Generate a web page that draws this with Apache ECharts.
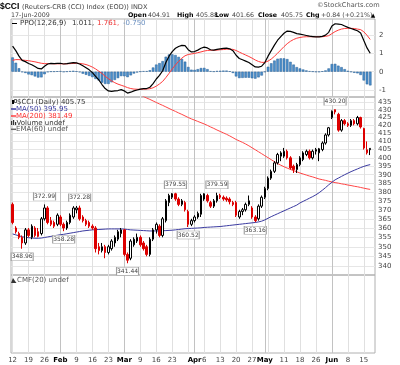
<!DOCTYPE html>
<html><head><meta charset="utf-8">
<script src="https://cdn.jsdelivr.net/npm/echarts@6/dist/echarts.min.js"></script>
<style>html,body{margin:0;padding:0;background:#fff}#c{width:400px;height:365px}</style>
</head><body><div id="c"></div>
<script>
// ---------- data ----------
const dates = ['01-12','01-13','01-14','01-15','01-16','01-19','01-20','01-21','01-22','01-23','01-26','01-27','01-28','01-29','01-30',
'02-02','02-03','02-04','02-05','02-06','02-09','02-10','02-11','02-12','02-13','02-16','02-17','02-18','02-19','02-20','02-23','02-24','02-25','02-26','02-27',
'03-02','03-03','03-04','03-05','03-06','03-09','03-10','03-11','03-12','03-13','03-16','03-17','03-18','03-19','03-20','03-23','03-24','03-25','03-26','03-27','03-30','03-31',
'04-01','04-02','04-03','04-06','04-07','04-08','04-09','04-10','04-13','04-14','04-15','04-16','04-17','04-20','04-21','04-22','04-23','04-24','04-27','04-28','04-29','04-30',
'05-01','05-04','05-05','05-06','05-07','05-08','05-11','05-12','05-13','05-14','05-15','05-18','05-19','05-20','05-21','05-22','05-25','05-26','05-27','05-28','05-29',
'06-01','06-02','06-03','06-04','06-05','06-08','06-09','06-10','06-11','06-12','06-15','06-16','06-17'];

const open = [373,360,357,355,352,359,355,360,358,357, 365,371,364,363,362,366,362,360,363,366,
370,371,366,364,363,361,360,350,348,350, 347,349,352,354,357,359,346,344,351,353,
355,352,350,346,354,359,361,356,364,374, 377,379,376,373,374,369,362,364,366,367.5,
376,378,374,372,375,378,377,376.5,376,374, 374,366,369,370,373,371,366,365,372,377,
382,388,392,397,401,401,404,400,395,393, 396,399,402,404,400,404,403,405,409,414,
425,430,427,417,423,421,420,423,421,425, 418,403,404.91];
const high = [374,361,358,356,360,360,362,361,360,366, 372.99,372,366,364,368,367,363,364,368,372,
372.1,372.28,367,365,364,362,361,352,352,351, 351,354,356,359,360,359.5,347,354,355,357,
356,353,351,355,360,363,362,366,376,379, 379.4,379.55,377,376,375,370,365,367,369,379,
379.3,379,375,376,379.59,379,378,377.5,377,375, 375,370,371,374,378,372,367,373,378,383,
389,393,398,403,404,406,405,401,396,397, 401,404,405,405,405,406,406,410,415,419,
429.5,430.2,428,424,424,422,424,424,426,425.5, 418.5,410,405.88];
const low = [362,357,354,348.96,351,355,354,355,355,356, 364,362,361,360,361,361,358.28,359,362,365,
368,364,363,361,360,359,347,346,347,344, 346,348,350,353,355,345,341.44,343,350,352,
350,348,345,345,353,357,355,355,363,372, 376,375,372,372,369,360.52,361,363,365,366,
375,374,371,371,374,376,375,374.5,373,372, 366,365,367,369,372,365,363.16,364,371,376,
381,387,391,396,398,400,399,393,391,391, 395,398,401,399,399,402,398,404,408,413,
424,427,416,416,420,419,419,420,420,418, 405,402,401.66];
const close = [363,358,355,352,359,356,361,356,355.5,365, 371,363,362,361,367,362,360,363,367,371,
371,365,364,362,361,360,349,348,350,347, 350,353,355,358,359,346,343,353,354,355,
351,349,346,354,359,362,356,365,375,378, 379,376,373,375,370,362,364,366,368,378,
379,375,372,375,378,377,376,375.5,374.5,373, 367,369,370,373,375,366,364,372,377,382,
388,392,397,402,403,404,400,394,393,396, 400,403,404,400,404,405,405.5,409,414,418.5,
429,428.5,417,423,421,420,423,421,425,419, 406,404.91,405.75];

const ma50 = [356.8,356.3,355.8,355.3,355.0,354.8,354.6,354.5,354.5,354.6, 354.9,355.2,355.5,355.8,356.1,356.4,356.6,356.9,357.2,357.5,
357.8,358.1,358.4,358.6,358.8,359.0,359.1,359.2,359.3,359.4, 359.5,359.5,359.5,359.5,359.5,359.4,359.2,359.0,358.9,358.8,
358.7,358.6,358.5,358.4,358.4,358.4,358.4,358.5,358.6,358.7, 358.8,359.0,359.2,359.4,359.6,359.7,359.8,359.9,360.0,360.1,
360.3,360.4,360.5,360.6,360.7,360.8,361.0,361.2,361.4,361.6, 361.8,362.0,362.2,362.4,362.6,362.8,363.0,363.3,363.7,364.4,
365.3,366.2,367.0,367.8,368.6,369.4,370.2,371.0,371.8,372.6, 373.8,374.7,375.6,376.5,377.4,378.4,379.6,381.0,382.5,384.1,
385.6,387.0,388.0,389.0,390.0,390.9,391.8,392.6,393.4,394.2, 394.9,395.5,395.95];
const ma200 = [null,null,null,null,null,null,null,null,null,null, null,null,null,null,null,null,null,null,null,null,
null,null,null,null,null,null,null,null,null,null, null,null,null,null,null,null,null,null,null,null,
439.6,438.6,437.6,436.7,435.7,434.7,433.7,432.8,431.8,430.8, 429.8,428.9,427.9,427.0,426.0,425.0,424.1,423.3,422.5,421.7,
420.9,420.0,419.0,418.1,417.1,416.2,415.3,414.4,413.4,412.3, 411.2,410.3,409.4,408.4,407.3,406.1,404.9,403.7,402.5,401.3,
400.1,398.9,397.7,396.6,395.6,394.7,393.9,393.1,392.4,391.7, 391.0,390.4,389.8,389.2,388.7,388.1,387.5,387.1,386.7,386.2,
385.8,385.4,385.1,384.7,384.4,384.0,383.7,383.3,383.0,382.6, 382.2,381.8,381.49];

const ppo = [1.40,1.15,0.85,0.62,0.55,0.45,0.38,0.28,0.18,0.15, 0.30,0.42,0.45,0.44,0.45,0.46,0.42,0.44,0.47,0.50,
0.48,0.42,0.32,0.22,0.10,-0.05,-0.25,-0.45,-0.70,-0.92, -1.05,-1.08,-1.05,-1.03,-0.98,-1.05,-1.17,-1.12,-1.05,-1.00,
-0.95,-0.93,-0.92,-0.85,-0.65,-0.40,-0.20,0.05,0.50,0.85, 1.10,1.28,1.38,1.44,1.42,1.20,1.08,1.10,1.18,1.28,
1.34,1.30,1.20,1.18,1.22,1.25,1.27,1.29,1.25,1.15, 0.90,0.72,0.65,0.58,0.50,0.38,0.26,0.25,0.30,0.50,
0.85,1.15,1.45,1.72,1.92,2.10,2.22,2.20,2.15,2.08, 2.05,2.02,1.98,1.94,1.92,1.90,1.90,1.93,2.00,2.15,
2.50,2.62,2.60,2.58,2.50,2.42,2.36,2.30,2.24,2.12, 1.70,1.30,1.011];
const ppoSignal = [0.62,0.66,0.66,0.64,0.62,0.60,0.57,0.54,0.50,0.46, 0.44,0.44,0.44,0.43,0.43,0.43,0.43,0.43,0.44,0.45,
0.46,0.45,0.43,0.39,0.33,0.25,0.15,0.03,-0.10,-0.25, -0.38,-0.50,-0.60,-0.68,-0.74,-0.80,-0.87,-0.92,-0.95,-0.96,
-0.96,-0.96,-0.95,-0.93,-0.88,-0.79,-0.67,-0.53,-0.32,-0.09, 0.15,0.37,0.57,0.74,0.87,0.94,0.97,1.00,1.04,1.08,
1.13,1.16,1.17,1.17,1.18,1.20,1.21,1.23,1.23,1.22, 1.16,1.07,0.99,0.91,0.83,0.74,0.64,0.56,0.51,0.51,
0.58,0.69,0.84,1.01,1.19,1.37,1.53,1.66,1.76,1.83, 1.87,1.90,1.91,1.91,1.91,1.91,1.91,1.91,1.93,1.97,
2.08,2.19,2.27,2.33,2.36,2.37,2.37,2.36,2.33,2.30, 2.18,1.99,1.761];
const ppoHist = [0.78,0.49,0.19,-0.02,-0.07,-0.15,-0.19,-0.26,-0.32,-0.31, -0.14,-0.02,0.01,0.01,0.02,0.03,-0.01,0.01,0.03,0.05,
0.02,-0.03,-0.11,-0.17,-0.23,-0.30,-0.40,-0.48,-0.60,-0.67, -0.67,-0.58,-0.45,-0.35,-0.24,-0.25,-0.30,-0.20,-0.10,-0.04,
0.01,0.03,0.03,0.08,0.23,0.39,0.47,0.58,0.82,0.94, 0.95,0.91,0.81,0.70,0.55,0.26,0.11,0.10,0.14,0.20,
0.21,0.14,0.03,0.01,0.04,0.05,0.06,0.06,0.02,-0.07, -0.26,-0.35,-0.34,-0.33,-0.33,-0.36,-0.38,-0.31,-0.21,-0.01,
0.27,0.46,0.61,0.71,0.73,0.73,0.69,0.54,0.39,0.25, 0.18,0.12,0.07,0.03,0.01,-0.01,-0.01,0.02,0.07,0.18,
0.42,0.43,0.33,0.25,0.14,0.05,-0.01,-0.06,-0.09,-0.18, -0.48,-0.69,-0.750];

const tickDates = ['01-12','01-19','01-26','02-02','02-09','02-16','02-23','03-02','03-09','03-16','03-23','04-01','04-06','04-13','04-20','04-27','05-01','05-11','05-18','05-25','06-01','06-08','06-15'];
const tickTexts = ['12','19','26','Feb','9','16','23','Mar','9','16','23','Apr','6','13','20','27','May','11','18','26','Jun','8','15'];
const monthDates = ['02-02','03-02','04-01','05-01','06-01'];
const gridDates = ['01-12','01-19','01-26','02-02','02-09','02-16','02-23','03-02','03-09','03-16','03-23','03-30','04-01','04-06','04-13','04-20','04-27','05-01','05-04','05-11','05-18','05-25','06-01','06-08','06-15'];
const priceTicks = [340,345,350,355,360,365,370,375,380,385,390,395,400,405,410,415,420,425,430,435];
const ppoTicks = [-1,0,1,2];

const annotDates  = ['01-26','02-10','03-24','04-10','06-02','01-15','02-03','03-03','03-30','04-28'];
const annotValues = [372.99,372.28,379.55,379.59,430.20,348.96,358.28,341.44,360.52,363.16];
const annotAbove  = [true,true,true,true,true,false,false,false,false,false];

// ---------- chart ----------
const FONT = 'DejaVu Sans';
const cats = dates.concat(['']);
const tickMap = {}; tickDates.forEach((d,i)=>tickMap[d]=tickTexts[i]);

const candles = dates.map((d,i)=>{
  const o=open[i], c=close[i], pc = i>0 ? close[i-1] : o;
  const col = c >= pc ? '#000000' : '#dd0000';
  const fill = c >= o ? '#ffffff' : col;
  return {value:[o,c,low[i],high[i]], itemStyle:{color:fill,color0:fill,borderColor:col,borderColor0:col}};
});

const gridLines = gridDates.map(d=>({xAxis:d, lineStyle:{color: monthDates.includes(d) ? '#c2c2c2' : '#e0e0e0', width:1, type:'solid'}}));
const dummy = cats.map(()=>null);
const mkGrid = (k)=>({type:'line', xAxisIndex:k, yAxisIndex:k, data:dummy, showSymbol:false, silent:true, z:1,
  markLine:{z:1, silent:true, symbol:['none','none'], label:{show:false}, animation:false, data:gridLines}});

const L = 11, W = 364;
const grids = [
  {left:L, width:W, top:19, height:78, show:true, borderColor:'#b0b0b0', borderWidth:1},
  {left:L, width:W, top:97, height:178, show:true, borderColor:'#b0b0b0', borderWidth:1},
  {left:L, width:W, top:275, height:78, show:true, borderColor:'#b0b0b0', borderWidth:1}
];
const xAxes = [0,1,2].map(k=>({type:'category', gridIndex:k, data:cats, boundaryGap:true,
  axisLine:{show:false}, axisTick:{show:false}, splitLine:{show:false},
  axisLabel: k===2 ? {show:true, interval:(i,v)=>tickMap[v]!==undefined, margin:4, fontSize:7, color:'#444', fontFamily:FONT,
     formatter:(v)=> monthDates.includes(v) ? '{m|'+tickMap[v]+'}' : (tickMap[v]||''),
     rich:{m:{fontWeight:'bold', color:'#000', fontSize:7, fontFamily:FONT}}} : {show:false}}));

const yAxes = [
  {type:'value', gridIndex:0, position:'right', min:-1.383, max:2.880,
   axisLine:{show:false}, axisTick:{show:false, customValues:ppoTicks},
   axisLabel:{customValues:ppoTicks, fontSize:7, color:'#444', margin:4, fontFamily:FONT},
   splitLine:{show:true, lineStyle:{color:'#e6e6e6'}}},
  {type:'log', logBase:10, gridIndex:1, position:'right', min:335.46, max:438.28,
   axisLine:{show:false}, axisTick:{show:false, customValues:priceTicks},
   axisLabel:{customValues:priceTicks, fontSize:7, color:'#444', margin:3, fontFamily:FONT, formatter:(v)=>String(Math.round(v))},
   splitLine:{show:true, lineStyle:{color:'#e6e6e6'}}},
  {type:'value', gridIndex:2, min:0, max:1, show:false}
];

const T = (x,y,text,opt)=>({type:'text', x, y, silent:true, z:100,
  style:Object.assign({text, fontFamily:FONT, fontSize:7, fill:'#333', verticalAlign:'middle', align:'left'}, opt||{})});
const H = 6.3;
const graphic = [
  T(0,7,'$CCI',{fontSize:8.5, fontWeight:'bold', fill:'#000', fontFamily:'Liberation Sans'}),
  T(22,7,'(Reuters-CRB (CCI) Index (EOD)) INDX',{fill:'#444', fontSize:6.6}),
  T(11,15.5,'17-Jun-2009',{fill:'#444', fontSize:6.3}),
  T(128,15.5,'Open',{fontWeight:'bold', fill:'#000', fontSize:H}), T(148,15.5,'404.91',{fill:'#444', fontSize:H}),
  T(177,15.5,'High',{fontWeight:'bold', fill:'#000', fontSize:H}), T(196,15.5,'405.88',{fill:'#444', fontSize:H}),
  T(215,15.5,'Low',{fontWeight:'bold', fill:'#000', fontSize:H}), T(232,15.5,'401.66',{fill:'#444', fontSize:H}),
  T(258,15.5,'Close',{fontWeight:'bold', fill:'#000', fontSize:H}), T(281,15.5,'405.75',{fill:'#444', fontSize:H}),
  T(306,15.5,'Chg',{fontWeight:'bold', fill:'#000', fontSize:H}), T(321,15.5,'+0.84 (+0.21%)',{fill:'#444', fontSize:H}),
  T(371,15.5,'▲',{fill:'#000', fontSize:5.5}),
  T(317,5,'©StockCharts.com',{fill:'#555', fontSize:6.6}),
  // PPO legend
  {type:'line', silent:true, z:100, shape:{x1:12,y1:23.5,x2:17,y2:23.5}, style:{stroke:'#000', lineWidth:1}},
  T(20,23.5,'PPO(12,26,9)',{fill:'#333'}), T(72,23.5,'1.011,',{fill:'#333'}), T(97,23.5,'1.761,',{fill:'#ee3333'}), T(123,23.5,'-0.750',{fill:'#6a8fc0'}),
  // price legend
  {type:'rect', silent:true, z:100, shape:{x:12,y:100,width:2,height:4}, style:{fill:'#000'}},
  {type:'rect', silent:true, z:100, shape:{x:14.5,y:99.5,width:2,height:3}, style:{fill:'#fff', stroke:'#000', lineWidth:0.6}},
  T(17,102.3,'$CCI (Daily) 405.75',{fill:'#333'}),
  {type:'line', silent:true, z:100, shape:{x1:11,y1:109,x2:16,y2:109}, style:{stroke:'#3a3aa0', lineWidth:1.5}},
  T(16,109,'MA(50) 395.95',{fill:'#3a3aa0'}),
  {type:'line', silent:true, z:100, shape:{x1:11,y1:116,x2:16,y2:116}, style:{stroke:'#ff4040', lineWidth:1.5}},
  T(16,116,'MA(200) 381.49',{fill:'#ff3030'}),
  {type:'rect', silent:true, z:100, shape:{x:11,y:121,width:1.2,height:4}, style:{fill:'#333'}},
  {type:'rect', silent:true, z:100, shape:{x:13,y:120,width:1.2,height:5}, style:{fill:'#333'}},
  {type:'rect', silent:true, z:100, shape:{x:15,y:122,width:1.2,height:3}, style:{fill:'#333'}},
  T(16.5,123,'Volume undef',{fill:'#333'}),
  {type:'line', silent:true, z:100, shape:{x1:11,y1:129.3,x2:16,y2:129.3}, style:{stroke:'#666', lineWidth:1.5}},
  T(16,129.3,'EMA(60) undef',{fill:'#555'}),
  // CMF legend
  {type:'polygon', silent:true, z:100, shape:{points:[[11,283],[13,278],[15,281],[16.5,283]]}, style:{fill:'#333'}},
  T(17,280,'CMF(20) undef',{fill:'#555'})
];

const markData = annotDates.map((d,i)=>({name: annotValues[i].toFixed(2), coord:[d, annotValues[i]], symbolOffset:[0, annotAbove[i] ? -8 : 8]}));

const option = {
  animation:false,
  backgroundColor:'#ffffff',
  grid: grids, xAxis: xAxes, yAxis: yAxes, graphic,
  series: [
    mkGrid(0),
    {type:'bar', xAxisIndex:0, yAxisIndex:0, data:ppoHist, barWidth:'80%', z:2,
     itemStyle:{color:'#4b8fcb', borderColor:'#2a6097', borderWidth:0.5}},
    {type:'line', xAxisIndex:0, yAxisIndex:0, data:ppoSignal, showSymbol:false, z:3, lineStyle:{color:'#ff3b3b', width:1}},
    {type:'line', xAxisIndex:0, yAxisIndex:0, data:ppo, showSymbol:false, z:4, lineStyle:{color:'#000', width:1.2}},
    mkGrid(1),
    {type:'line', xAxisIndex:1, yAxisIndex:1, data:ma200, showSymbol:false, z:2, lineStyle:{color:'#ff4646', width:1}},
    {type:'line', xAxisIndex:1, yAxisIndex:1, data:ma50, showSymbol:false, z:2, lineStyle:{color:'#3a3aa0', width:1}},
    {type:'candlestick', xAxisIndex:1, yAxisIndex:1, data:candles, barWidth:2, z:3,
     itemStyle:{borderWidth:1},
     markPoint:{symbol:'rect', symbolSize:[22,8], silent:true, animation:false,
       itemStyle:{color:'#ffffff', borderColor:'#a0a0a0', borderWidth:0.7},
       label:{show:true, position:'inside', fontSize:6, color:'#444', fontFamily:FONT, formatter:(p)=>p.name},
       data: markData}},
    mkGrid(2)
  ]
};
const chart = echarts.init(document.getElementById('c'), null, {renderer:'canvas'});
chart.setOption(option);
</script></body></html>
